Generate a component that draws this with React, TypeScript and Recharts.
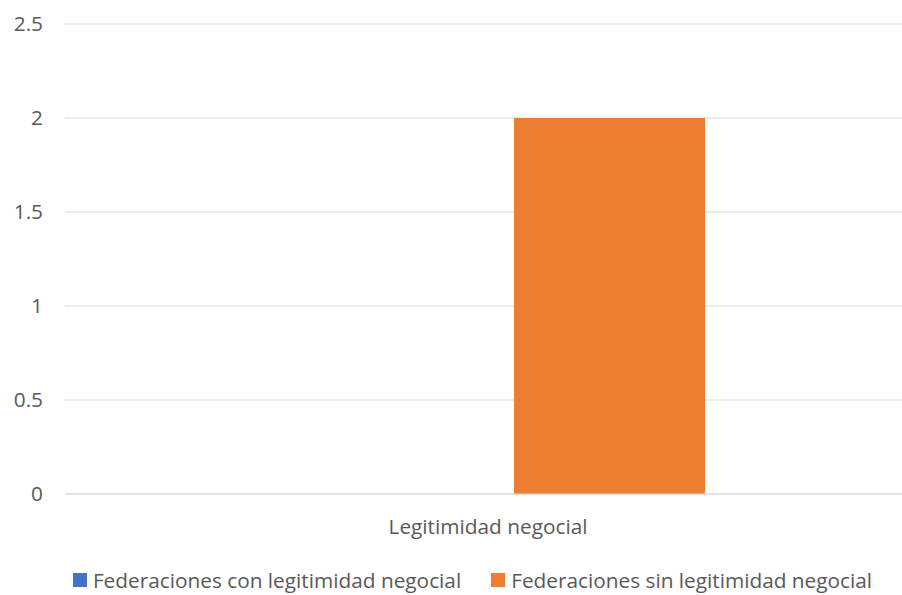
import React from "react";
import { BarChart, Bar, XAxis, YAxis, CartesianGrid } from "recharts";

const categories = ["Legitimidad negocial"];
const conLegitimidad = [0];
const sinLegitimidad = [2];
const yTicks = [0, 0.5, 1, 1.5, 2, 2.5];
const seriesNames = [
  "Federaciones con legitimidad negocial",
  "Federaciones sin legitimidad negocial",
];
const seriesColors = ["#4472C4", "#ED7D31"];

const data = categories.map((c, i) => ({
  name: c,
  con: conLegitimidad[i],
  sin: sinLegitimidad[i],
}));

const FONT = "'Open Sans', sans-serif";
const TEXT = "#595959";
const FS = 20.8;

export default function App() {
  return (
    <div
      style={{
        width: 902,
        height: 595,
        overflow: "hidden",
        position: "absolute",
        left: 0,
        top: 0,
        background: "#fff",
      }}
    >
      <BarChart
        width={902}
        height={595}
        data={data}
        margin={{ top: 24, right: 0, left: 0, bottom: 100 }}
        barSize={191}
        barGap={61}
      >
        <CartesianGrid vertical={false} stroke="#d9d9d9" strokeWidth={1} />
        <XAxis
          dataKey="name"
          axisLine={{ stroke: "#d9d9d9" }}
          tickLine={false}
          tickSize={0}
          tickMargin={25}
          tick={{ fill: TEXT, fontSize: FS, fontFamily: FONT, dx: 4.5 }}
          height={1}
        />
        <YAxis
          width={65}
          domain={[0, 2.5]}
          ticks={yTicks}
          axisLine={false}
          tickLine={false}
          tickSize={0}
          tickMargin={22}
          tick={{ fill: TEXT, fontSize: FS, fontFamily: FONT }}
        />
        <Bar dataKey="con" name={seriesNames[0]} fill={seriesColors[0]} isAnimationActive={false} />
        <Bar dataKey="sin" name={seriesNames[1]} fill={seriesColors[1]} isAnimationActive={false} />
      </BarChart>
      <div
        style={{
          position: "absolute",
          left: 0,
          top: 565,
          width: 945,
          height: 30,
          display: "flex",
          justifyContent: "center",
          alignItems: "center",
          fontFamily: FONT,
          fontSize: FS,
          color: TEXT,
          whiteSpace: "nowrap",
        }}
      >
        {seriesNames.map((n, i) => (
          <div
            key={n}
            style={{ display: "flex", alignItems: "center", marginLeft: i ? 30 : 0 }}
          >
            <span
              style={{
                display: "inline-block",
                width: 14,
                height: 14,
                background: seriesColors[i],
                marginRight: 6,
              }}
            />
            <span>{n}</span>
          </div>
        ))}
      </div>
    </div>
  );
}
